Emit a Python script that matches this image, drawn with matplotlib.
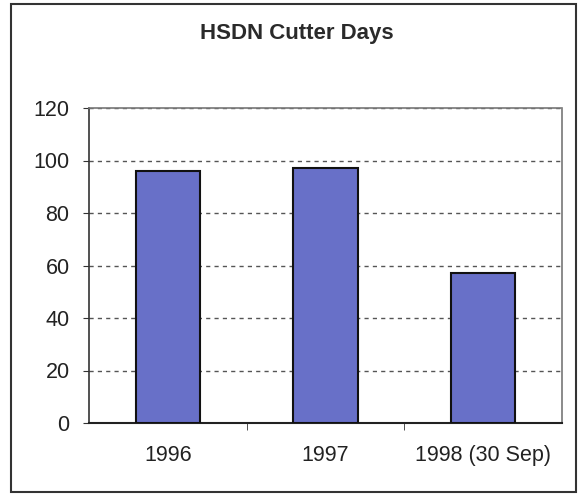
import matplotlib
matplotlib.use('Agg')
from matplotlib import pyplot as plt
from matplotlib.patches import Rectangle

plt.rcParams['font.family'] = ['Liberation Sans', 'DejaVu Sans']

# data
categories = ['1996', '1997', '1998 (30 Sep)']
cutter_days = [96, 97, 57]
y_ticks = [0, 20, 40, 60, 80, 100, 120]

fig = plt.figure(figsize=(5.79, 4.99), dpi=100)
ax = fig.add_axes([89 / 579, 1 - 423 / 499, (562 - 89) / 579, (423 - 108) / 499])

x = list(range(len(categories)))
ax.bar(x, cutter_days, width=0.41, color='#6870C8', edgecolor='#111111', linewidth=1.5, zorder=3)

ax.set_xlim(-0.5, len(categories) - 0.5)
ax.set_ylim(0, 120)
ax.set_yticks(y_ticks)
ax.set_yticklabels([str(v) for v in y_ticks], fontsize=15.5, color='#222222')

# category labels centered, ticks between categories (Excel style)
ax.set_xticks(x)
ax.set_xticklabels(categories, fontsize=15.5, color='#222222')
ax.tick_params(axis='x', length=0, pad=16)
ax.set_xticks([i + 0.5 for i in x[:-1]], minor=True)
ax.tick_params(axis='x', which='minor', length=5, color='#333333', direction='out')
ax.tick_params(axis='y', length=4, pad=10, color='#333333', direction='out')

# dashed gridlines
ax.yaxis.grid(True, linestyle=(0, (3, 3)), color='#555555', linewidth=1.0, zorder=0)
ax.set_axisbelow(True)

for side in ['top', 'right']:
    ax.spines[side].set_color('#777777')
    ax.spines[side].set_linestyle((0, (1, 1)))
    ax.spines[side].set_linewidth(1.2)
ax.spines['left'].set_color('#333333')
ax.spines['left'].set_linewidth(1.2)
ax.spines['bottom'].set_color('#222222')
ax.spines['bottom'].set_linewidth(1.5)

fig.text(297 / 579, 1 - 33 / 499, 'HSDN Cutter Days', ha='center', va='center',
         fontsize=16, fontweight='bold', color='#2a2a2a')

# outer chart border
fig.patches.append(Rectangle((11 / 579, 1 - 492 / 499), (576 - 11) / 579, (492 - 4) / 499,
                             transform=fig.transFigure, fill=False,
                             edgecolor='#333333', linewidth=1.5))

fig.savefig('out.png', dpi=100)
